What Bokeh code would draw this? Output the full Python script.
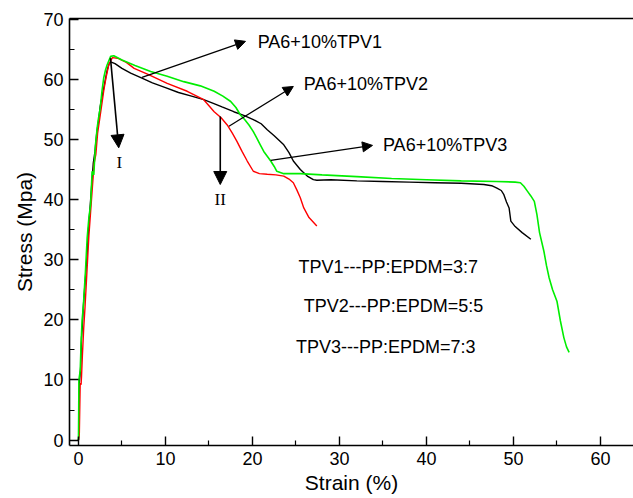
from bokeh.plotting import figure
from bokeh.models import Range1d, LinearAxis, FixedTicker, Arrow, NormalHead, Label
from bokeh.embed import file_html
from bokeh.resources import INLINE

# ---------------- data ----------------
tpv1_strain = [0, 0.05, 0.1, 0.25, 0.35, 0.45, 0.55, 0.7, 0.85, 1.0, 1.15, 1.3, 1.5, 1.7, 1.9, 2.1, 2.3,
               2.5, 2.7, 2.9, 3.1, 3.3, 3.5, 3.7, 4.2, 5.0, 6.0, 7.3, 8.5, 10.0, 11.5, 13.0, 14.4, 15.5,
               16.5, 17.85, 19.0, 20.1, 21.0, 21.7, 22.5, 23.6, 24.2, 24.7, 25.5, 26.3, 27.0, 27.4, 29,
               32, 35, 38, 41, 44, 46.6, 47.5, 48.1, 48.6, 48.9, 49.2, 49.5, 49.7, 50.2, 51.0, 52.0]
tpv1_stress = [0, 1, 9.5, 12, 17, 19, 22, 25, 28, 31, 35, 38, 42, 46, 48, 51, 53,
               55.5, 57, 58.5, 60, 61.5, 62.5, 62.9, 62.6, 61.8, 61.0, 60.2, 59.4, 58.6, 57.8, 57.2, 56.6, 56.0,
               55.4, 54.6, 54.0, 53.3, 52.6, 51.6, 50.6, 49.1, 47.8, 46.4, 45.0, 43.9, 43.3, 43.2, 43.3,
               43.1, 43.0, 42.9, 42.8, 42.7, 42.5, 42.3, 41.9, 41.5, 40.8, 39.6, 38.6, 36.4, 35.5, 34.5, 33.4]

tpv2_strain = [0, 0.1, 0.2, 0.3, 0.35, 0.45, 0.6, 0.75, 0.9, 1.05, 1.2, 1.4, 1.6, 1.8, 2.0, 2.2, 2.45,
               2.7, 2.95, 3.2, 3.5, 3.9, 4.5, 5.5, 6.4, 8.0, 10.2, 12.5, 14.4, 15.6, 16.4, 17.1, 17.7,
               18.2, 18.8, 19.4, 20.1, 20.8, 21.7, 22.7, 23.6, 24.2, 24.7, 25.1, 25.5, 25.9, 26.5, 27.4]
tpv2_stress = [0, 1, 9.5, 9.2, 10.5, 14, 18.5, 22, 26, 30, 34, 38, 42, 46, 47.5, 51, 53.5,
               56, 58.5, 60.5, 62.5, 63.6, 63.5, 62.8, 61.8, 60.8, 59.3, 58.0, 56.6, 54.6, 53.6, 52.4, 51.0,
               49.7, 48.0, 46.4, 44.7, 44.3, 44.2, 44.1, 43.9, 43.4, 42.8, 41.6, 40.3, 38.6, 37.0, 35.6]

tpv3_strain = [0, 0.03, 0.05, 0.2, 0.3, 0.42, 0.55, 0.8, 1.0, 1.2, 1.4, 1.57, 1.76, 1.95, 2.15, 2.3, 2.5,
               2.7, 2.9, 3.1, 3.3, 3.7, 4.06, 5.0, 6.5, 8.3, 10.2, 12.1, 14.0, 15.6, 16.6, 17.5, 18.1,
               18.6, 19.1, 19.6, 20.1, 20.5, 20.9, 21.3, 21.7, 22.1, 22.5, 22.8, 23.6, 25.5, 28, 32, 36,
               40, 44, 48, 50.2, 50.8, 51.2, 51.6, 52.0, 52.4, 52.7, 53.0, 53.5, 53.8, 54.1, 54.5, 55.0,
               55.4, 55.8, 56.1, 56.4]
tpv3_stress = [0, 5, 10, 11.5, 16, 20, 22, 28, 33.6, 37, 39.2, 44.7, 44.1, 49, 51.9, 53.5, 55.2,
               58, 60.2, 61.5, 62.4, 63.8, 63.9, 63.2, 62.3, 61.3, 60.5, 59.6, 58.9, 58.0, 57.2, 56.3, 55.3,
               54.1, 53.3, 52.4, 51.3, 50.2, 49.1, 48.0, 47.2, 46.4, 45.5, 44.7, 44.3, 44.3, 44.1, 43.8, 43.5,
               43.3, 43.1, 43.0, 42.9, 42.8, 42.2, 41.4, 40.6, 39.7, 37.5, 34.5, 31.4, 29.0, 27.0, 25.0, 23.1,
               19.8, 17.0, 15.5, 14.6]

x_ticks = [0, 10, 20, 30, 40, 50, 60]
y_ticks = [0, 10, 20, 30, 40, 50, 60, 70]

series_labels = ["PA6+10%TPV1", "PA6+10%TPV2", "PA6+10%TPV3"]
# arrow start (on curve) and end (near label), data units
label_arrow_x0 = [7.3, 17.3, 22.1]
label_arrow_y0 = [60.3, 52.2, 46.5]
label_arrow_x1 = [19.2, 24.7, 33.8]
label_arrow_y1 = [66.3, 58.8, 49.0]
label_x = [20.6, 25.9, 35.0]
label_y = [66.2, 59.2, 49.1]

composition = ["TPV1---PP:EPDM=3:7", "TPV2---PP:EPDM=5:5", "TPV3---PP:EPDM=7:3"]
composition_x = [25.3, 25.9, 25.0]
composition_y = [28.7, 22.3, 15.4]

roman = ["I", "II"]
roman_arrow_x0 = [3.68, 16.3]
roman_arrow_y0 = [63.5, 53.8]
roman_arrow_x1 = [4.63, 16.3]
roman_arrow_y1 = [48.6, 42.5]
roman_x = [4.7, 16.3]
roman_y = [46.2, 40.0]

# ---------------- figure ----------------
FONT = "Liberation Sans"
p = figure(width=633, height=498, output_backend="svg", toolbar_location=None,
           x_range=Range1d(-1.03, 63.8), y_range=Range1d(-0.9, 70.1),
           min_border_left=69, min_border_right=0, min_border_top=18, min_border_bottom=53)
p.outline_line_color = None
p.grid.visible = False
p.background_fill_color = "white"

for ax, ticks in ((p.xaxis[0], x_ticks), (p.yaxis[0], y_ticks)):
    ax.ticker = FixedTicker(ticks=ticks, minor_ticks=[t + 5 for t in ticks])
    ax.major_tick_in = 9
    ax.major_tick_out = 0
    ax.minor_tick_in = 5
    ax.minor_tick_out = 0
    ax.axis_line_width = 1.6
    ax.major_tick_line_width = 1.4
    ax.minor_tick_line_width = 1.2
    ax.axis_line_color = "black"
    ax.major_tick_line_color = "black"
    ax.minor_tick_line_color = "black"
    ax.major_label_text_font = FONT
    ax.major_label_text_font_size = "18px"
    ax.major_label_text_color = "black"
    ax.axis_label_text_font = FONT
    ax.axis_label_text_font_size = "21px"
    ax.axis_label_text_font_style = "normal"
    ax.axis_label_text_color = "black"

p.xaxis.major_label_standoff = 6
p.xaxis.axis_label = "Strain (%)"
p.xaxis.axis_label_standoff = 3
p.yaxis.major_label_standoff = 6
p.yaxis.axis_label = "Stress (Mpa)"
p.yaxis.axis_label_standoff = 4

top = LinearAxis(ticker=FixedTicker(ticks=[]), major_tick_in=0, major_tick_out=0,
                 minor_tick_in=0, minor_tick_out=0, axis_line_width=1.6,
                 major_label_text_font_size="0px", major_label_standoff=0)
p.add_layout(top, "above")

p.line(tpv1_strain, tpv1_stress, line_color="black", line_width=1.4)
p.line(tpv2_strain, tpv2_stress, line_color="#ff0000", line_width=1.4)
p.line(tpv3_strain, tpv3_stress, line_color="#00ee00", line_width=1.6)

for i in range(3):
    p.add_layout(Arrow(x_start=label_arrow_x0[i], y_start=label_arrow_y0[i],
                       x_end=label_arrow_x1[i], y_end=label_arrow_y1[i],
                       line_width=1.2, line_color="black",
                       end=NormalHead(size=10, fill_color="black", line_color="black")))
    p.add_layout(Label(x=label_x[i], y=label_y[i], text=series_labels[i],
                       text_font=FONT, text_font_size="18px", text_baseline="middle",
                       text_align="left", text_color="black"))

for i in range(2):
    p.add_layout(Arrow(x_start=roman_arrow_x0[i], y_start=roman_arrow_y0[i],
                       x_end=roman_arrow_x1[i], y_end=roman_arrow_y1[i],
                       line_width=1.6, line_color="black",
                       end=NormalHead(size=13, fill_color="black", line_color="black")))
    p.add_layout(Label(x=roman_x[i], y=roman_y[i], text=roman[i],
                       text_font="Liberation Serif", text_font_size="17px", text_baseline="middle",
                       text_align="center", text_color="black"))

for i in range(3):
    p.add_layout(Label(x=composition_x[i], y=composition_y[i], text=composition[i],
                       text_font=FONT, text_font_size="18px", text_baseline="middle",
                       text_align="left", text_color="black"))

open("out.html", "w").write(file_html(p, INLINE))
